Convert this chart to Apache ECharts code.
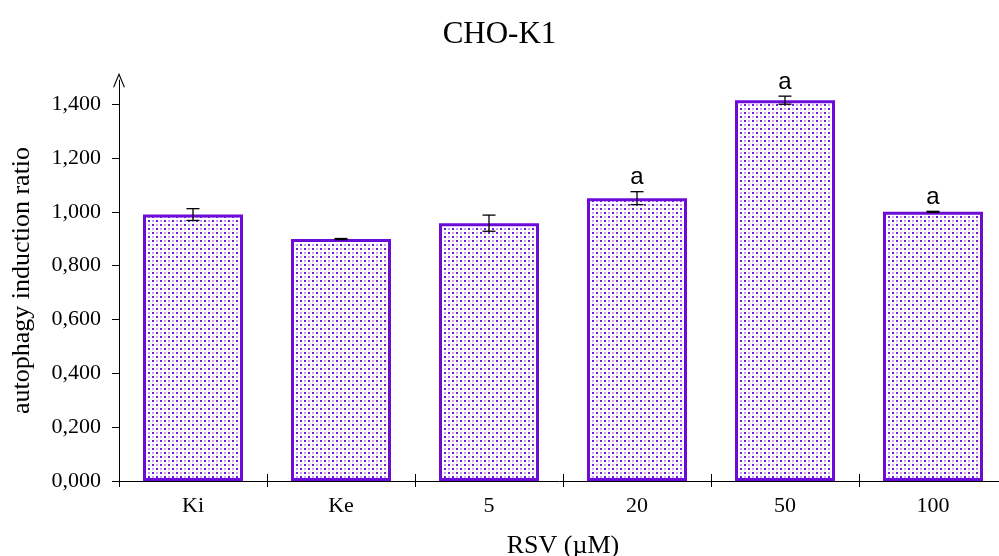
<!DOCTYPE html>
<html>
<head>
<meta charset="utf-8">
<script src="https://cdn.jsdelivr.net/npm/echarts@6/dist/echarts.min.js"></script>
<style>html,body{margin:0;padding:0;background:#fff}#c{width:999px;height:556px}</style>
</head>
<body>
<div id="c"></div>
<script>
var categories = ['Ki', 'Ke', '5', '20', '50', '100'];
var values = [0.990, 0.899, 0.958, 1.051, 1.415, 1.000];
var errors = [0.022, 0.002, 0.030, 0.024, 0.015, 0.002];
var letters = ['', '', '', 'a', 'a', 'a'];
var yTicks = [0, 0.2, 0.4, 0.6, 0.8, 1.0, 1.2, 1.4];

function makePattern() {
  var c = document.createElement('canvas');
  c.width = 8; c.height = 8;
  var g = c.getContext('2d');
  g.fillStyle = '#ffffff';
  g.fillRect(0, 0, 8, 8);
  g.fillStyle = '#7417df';
  g.fillRect(0, 0, 2, 2);
  g.fillRect(4, 4, 2, 2);
  g.fillStyle = '#c7a3f2';
  g.fillRect(4, 0, 2, 2);
  g.fillRect(0, 4, 2, 2);
  return c;
}

var chart = echarts.init(document.getElementById('c'), null, {renderer: 'canvas'});
var serif = '"Liberation Serif", "Times New Roman", serif';
var errData = values.map(function (v, i) { return [i, v - errors[i], v + errors[i], letters[i]]; });

chart.setOption({
  animation: false,
  title: {
    text: 'CHO-K1', left: 'center', top: 14,
    textStyle: {fontFamily: serif, fontSize: 31, fontWeight: 'normal', color: '#000'}
  },
  grid: {left: 119, top: 80, width: 888, height: 401, containLabel: false, outerBoundsMode: 'none'},
  xAxis: [{
    type: 'category', data: categories,
    axisLine: {lineStyle: {color: '#000', width: 1}},
    axisTick: {show: true, length: 6, lineStyle: {color: '#000'}},
    axisLabel: {fontFamily: serif, fontSize: 22, color: '#000', margin: 14},
    name: 'RSV (\u00b5M)', nameLocation: 'middle', nameGap: 52,
    nameTextStyle: {fontFamily: serif, fontSize: 26, color: '#000'}
  }, {
    type: 'category', data: categories, position: 'bottom',
    axisLine: {show: false}, axisLabel: {show: false},
    axisTick: {show: true, inside: true, length: 7, lineStyle: {color: '#000'}}
  }],
  yAxis: {
    type: 'value', min: 0, max: 1.49,
    splitLine: {show: false},
    axisLine: {show: true, lineStyle: {color: '#000', width: 1},
      symbol: ['none', 'path://M0,12 L5,0 L10,12 L9,12 L5,2.5 L1,12 Z'], symbolSize: [12, 16], symbolOffset: [0, 0]},
    axisTick: {show: true, length: 7, lineStyle: {color: '#000'}, customValues: yTicks},
    axisLabel: {fontFamily: serif, fontSize: 22, color: '#000', margin: 18, customValues: yTicks,
      formatter: function (v) { return v.toFixed(3).replace('.', ','); }},
    name: 'autophagy induction ratio', nameLocation: 'middle', nameGap: 84, nameRotate: 90,
    nameTextStyle: {fontFamily: serif, fontSize: 26, color: '#000'}
  },
  series: [{
    type: 'bar', data: values, barWidth: 100,
    itemStyle: {color: {image: makePattern(), repeat: 'repeat'}, borderColor: '#6d0bd9', borderWidth: 3}
  }, {
    type: 'custom', data: errData, z: 10,
    renderItem: function (params, api) {
      var x = api.coord([api.value(0), 0])[0];
      var lo = api.coord([api.value(0), api.value(1)])[1];
      var hi = api.coord([api.value(0), api.value(2)])[1];
      var w = 6.5;
      var st = {stroke: '#000', lineWidth: 1.3};
      var children = [
        {type: 'line', shape: {x1: x, y1: lo, x2: x, y2: hi}, style: st},
        {type: 'line', shape: {x1: x - w, y1: lo, x2: x + w, y2: lo}, style: st},
        {type: 'line', shape: {x1: x - w, y1: hi, x2: x + w, y2: hi}, style: st}
      ];
      var t = letters[params.dataIndex];
      if (t) {
        children.push({type: 'text', style: {text: t, x: x, y: hi - 2, textAlign: 'center', textVerticalAlign: 'bottom',
          fontFamily: '"Liberation Sans", Arial, sans-serif', fontSize: 24, fill: '#000'}});
      }
      return {type: 'group', children: children};
    }
  }]
});
</script>
</body>
</html>
